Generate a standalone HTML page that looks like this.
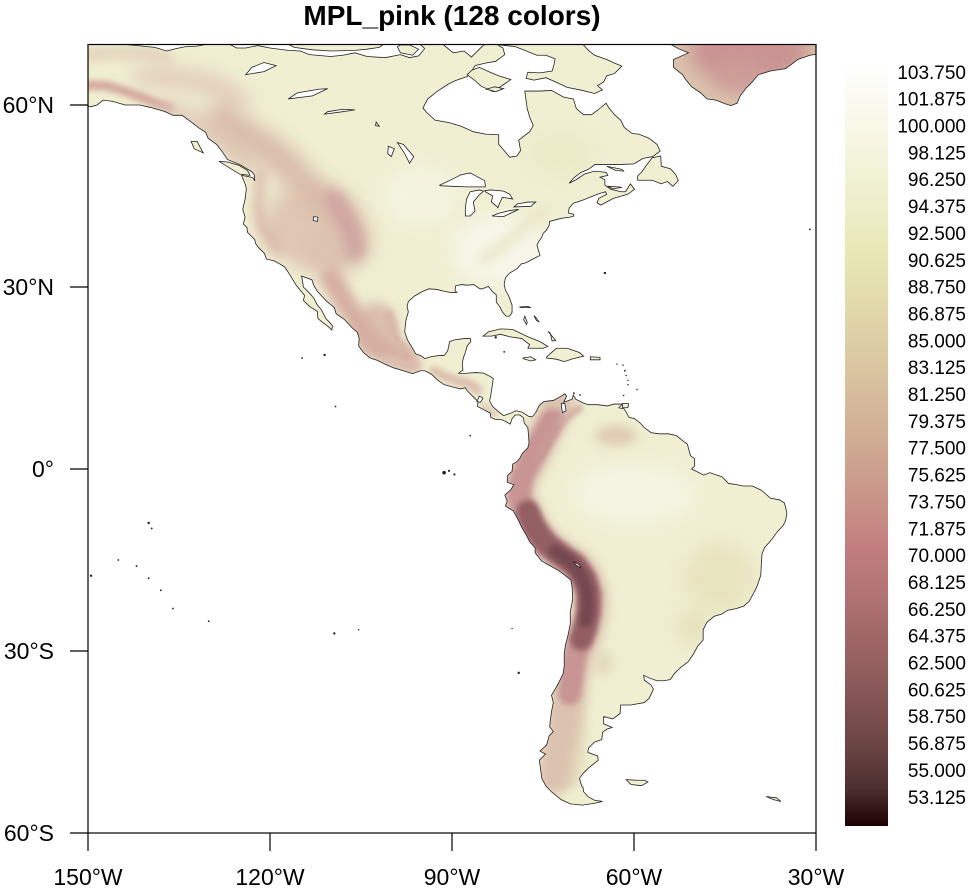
<!DOCTYPE html>
<html><head><meta charset="utf-8"><style>
html,body{margin:0;padding:0;background:#fff;}
svg{display:block;}
text{font-family:"Liberation Sans",Arial,sans-serif;fill:#000;}
</style></head><body>
<svg width="977" height="888" viewBox="0 0 977 888" xmlns="http://www.w3.org/2000/svg">
<defs>
<linearGradient id="cb" x1="0" y1="0" x2="0" y2="1">
<stop offset="0" stop-color="#ffffff"/>
<stop offset="0.1" stop-color="#f6f6e4"/>
<stop offset="0.2" stop-color="#ededc6"/>
<stop offset="0.254" stop-color="#e8e8b4"/>
<stop offset="0.3" stop-color="#e4deae"/>
<stop offset="0.4" stop-color="#dac6a1"/>
<stop offset="0.5" stop-color="#d0ab93"/>
<stop offset="0.6" stop-color="#c68b84"/>
<stop offset="0.635" stop-color="#c27e7e"/>
<stop offset="0.7" stop-color="#b07272"/>
<stop offset="0.8" stop-color="#915d5d"/>
<stop offset="0.9" stop-color="#694242"/>
<stop offset="0.95" stop-color="#4d2f2f"/>
<stop offset="1" stop-color="#1e0000"/>
</linearGradient>
<clipPath id="plot"><rect x="88" y="44" width="728" height="789"/></clipPath>
<filter id="b1" filterUnits="userSpaceOnUse" x="-170" y="-80" width="160" height="170"><feGaussianBlur stdDeviation="0.5"/></filter>
<filter id="b2" filterUnits="userSpaceOnUse" x="-170" y="-80" width="160" height="170"><feGaussianBlur stdDeviation="0.9"/></filter>
<filter id="b3" filterUnits="userSpaceOnUse" x="-170" y="-80" width="160" height="170"><feGaussianBlur stdDeviation="1.6"/></filter>

<polygon id="am" vector-effect="non-scaling-stroke" points="-151,71 -148,70.3 -145,70.1 -141,69.7 -139,69.5 -137,68.9 -135.5,69.3 -134,69.6 -132,69.7 -130,70.1 -128,70.5 -127,70.2 -125.5,69.4 -124,69.4 -122,69.8 -120,69.4 -117,69 -115,68.9 -113.5,68.3 -110,68 -108,68.2 -106,68.6 -104,68 -101,67.8 -98.5,68.3 -97,67.8 -95.5,68.1 -94.5,69.3 -95.8,70.5 -95,71.5 -92,71.5 -91.5,70 -89.8,68.6 -88,68.9 -86.8,67.9 -85.5,69.2 -84.8,69.9 -83,70.2 -81.6,69.4 -81.3,68.3 -82.8,67.2 -84.5,66.9 -86.2,66.5 -86.8,65.5 -87.5,64.7 -89.5,64 -90.7,63.4 -92.5,62.2 -94,61 -94.8,59.5 -94.2,58.8 -92.8,57.5 -90.5,57.1 -88.5,56.5 -86.5,55.6 -84.5,55.2 -82.3,55.1 -82.3,53.5 -81.5,52.6 -80.5,51.4 -79.3,51.6 -78.7,52.5 -79,54.2 -77.2,55.6 -76.6,56.6 -77.2,58 -77.6,59.4 -77.8,60.8 -78,62.3 -75.5,62.3 -73.6,62.4 -71.6,61.3 -70,61 -69.5,59.4 -68.3,58.4 -67,58.4 -65.8,59.3 -64.6,60.3 -64.2,59.6 -63.2,58.4 -62.2,57.5 -61.6,56.3 -60.3,55.3 -59.2,55.2 -57.5,54.5 -56.2,53.5 -55.7,52.4 -56.9,51.5 -58.5,51.2 -60,50.3 -62,50.2 -64.2,50.2 -66.4,50.2 -67.5,49.4 -68.7,48.9 -69.8,48.1 -70.7,47.1 -69.5,47.7 -68.2,48.6 -66.5,49.1 -64.6,48.9 -64.3,48.4 -65.6,48.1 -64.8,47.7 -64.8,46.8 -63.8,46.1 -62.1,45.7 -61.4,45.7 -60.6,47 -59.9,46.1 -61,45.3 -63.4,44.6 -65.5,43.5 -66.1,43.9 -65.8,44.6 -64.5,45.3 -64.7,45.7 -66,45.3 -67,44.9 -68.5,44.3 -70,43.8 -70.7,43 -70.8,42.2 -70,42 -69.9,41.7 -70.6,41.5 -71.5,41.4 -72.5,41.2 -73.9,40.8 -74,40.1 -74.5,39.3 -75,38.8 -75.2,38.2 -75.7,37.5 -76,36.9 -75.5,35.2 -76.5,34.7 -77.8,34 -78.6,33.8 -79.3,33 -80.5,32.3 -81.2,31.5 -81.4,30.4 -81.2,29.5 -80.6,28.4 -80.1,27 -80.1,25.8 -80.5,25.2 -81.1,25.2 -81.7,25.9 -82.1,26.7 -82.7,27.5 -82.7,28.7 -83.3,29.2 -84,30.1 -85,29.7 -85.4,29.7 -86.4,30.4 -87.5,30.3 -88.4,30.4 -89.4,30.2 -89.5,29.4 -89.2,29.1 -90.2,29.1 -91.3,29.3 -92.5,29.6 -93.8,29.7 -94.8,29.3 -96.2,28.5 -97.2,27.6 -97.4,26.8 -97.2,25.9 -97.6,24.5 -97.8,22.6 -97.3,21.2 -96.5,19.9 -96,19 -95,18.6 -94.5,18.2 -93.5,18.5 -92.2,18.7 -91.3,18.7 -90.7,19.5 -90.4,21 -89.5,21.3 -88,21.5 -87,21.5 -86.9,21 -87.5,20.3 -87.8,19.2 -88.1,18.4 -88.3,17.5 -88.2,16.3 -88.9,15.8 -88.2,15.7 -87.5,15.8 -86,15.9 -84.8,15.8 -83.6,15.2 -83.2,14.9 -83.4,13.5 -83.6,12.2 -83.8,11.2 -83.3,10.3 -82.3,9.4 -81.5,8.8 -80.3,9.2 -79.5,9.6 -78.5,9.4 -77.4,8.7 -76.8,8.6 -76.2,9.3 -75.6,10.5 -74.9,11.1 -74.2,11.2 -73.3,11.3 -72.2,11.9 -71.4,12.4 -71.1,12 -71.6,11 -70.2,11.5 -70,12.2 -69.6,11.5 -68.4,10.9 -67.5,10.6 -66,10.6 -64.4,10.4 -63.3,10.7 -61.9,10.7 -62.5,10.1 -61.6,9.9 -60.8,8.5 -59.9,8.3 -59,7.6 -58.4,6.9 -57.2,6 -55.9,5.8 -54.3,5.8 -53,5.5 -51.9,4.6 -51.2,4.1 -50.7,2.2 -50,1.7 -50,0.5 -50.5,0 -48.5,-1 -47.5,-0.6 -45.5,-1.3 -44.4,-2.4 -43.5,-2.5 -42,-2.8 -40.5,-2.8 -39,-3.5 -37.5,-4.8 -36,-5.1 -35.2,-5.6 -34.8,-7.2 -35,-8.5 -35.4,-9.3 -36.5,-10.5 -37.2,-11.5 -38.5,-13 -38.9,-14 -39,-15.5 -39.1,-17.5 -39.7,-19.3 -40.2,-20.3 -41,-21.8 -41.9,-22.6 -43.1,-23 -44.6,-23.3 -45.5,-23.9 -46.8,-24.3 -48,-25.3 -48.6,-26.5 -48.6,-28.2 -49.5,-29.2 -50.2,-30.5 -51.1,-31.8 -52.3,-32.7 -53.4,-33.8 -54,-34.7 -55,-34.9 -56.2,-34.9 -57.6,-34.4 -58.4,-34 -58.3,-34.8 -57.2,-35.6 -56.8,-36.3 -57.5,-37.8 -58.3,-38.5 -60.5,-38.9 -62.2,-38.9 -62.3,-40.3 -63.5,-41.2 -65,-40.8 -65,-42 -63.6,-42.6 -64.5,-42.9 -65.2,-43.4 -65.3,-44.6 -66.5,-45 -67.5,-46 -67.6,-46.7 -66,-47.3 -65.9,-48 -67.5,-49.3 -68.4,-50.2 -69,-51 -68.6,-52.3 -68.4,-52.5 -68.3,-53.2 -67.6,-54 -66.5,-54.6 -65.2,-54.8 -66.5,-55.1 -68.5,-55.4 -70.5,-55.2 -72,-54.5 -73.5,-53.3 -74.5,-52.3 -75.2,-51 -75.4,-49.5 -75.6,-48 -74.6,-47 -75.5,-46.5 -74.4,-45.5 -74,-44 -73.3,-43.3 -73.9,-42.5 -73.8,-41.5 -73.6,-40 -73.3,-38.5 -73.6,-37.3 -72.6,-35.6 -71.7,-33.8 -71.5,-32.5 -71.5,-30.5 -71.3,-29 -70.9,-27.5 -70.5,-25.5 -70.5,-23.5 -70.1,-21.5 -70.2,-19.5 -70.4,-18.3 -71.4,-17.5 -72.5,-16.7 -74.1,-15.8 -75.2,-15.2 -76.3,-13.8 -76.3,-13 -77.2,-12 -77.7,-11 -78.4,-9.8 -79.2,-8.2 -79.9,-6.9 -81.2,-6.1 -80.9,-5.3 -81.3,-4.3 -80.3,-3.4 -79.8,-2.6 -80.9,-2.2 -80.8,-1 -80.1,-0.4 -80,0.8 -79.3,1.2 -78.8,1.8 -78.4,2.6 -77.5,3.5 -77.3,4.3 -77.4,5.7 -77.5,6.8 -78.1,7.6 -78.2,8.4 -78.8,8.9 -79.6,8.9 -80.1,8.3 -80.4,7.4 -81.1,7.8 -81.7,8.1 -82.9,8.2 -83.6,8.5 -83.7,9.2 -85,9.9 -85.8,10.3 -85.7,11.1 -86.6,12 -87.5,12.9 -87.8,13.4 -88.6,13.2 -89.8,13.5 -91.3,13.9 -92.3,14.6 -93.5,15.7 -94.5,16.2 -95.2,16.2 -96.5,15.7 -98,16.2 -99.7,16.7 -101.1,17.3 -102.3,17.9 -103.5,18.3 -104.6,19.2 -105.4,20.3 -105.3,21.5 -105.6,22.5 -106.4,23.2 -107.8,24.7 -109.1,25.6 -109.4,26.6 -110.6,27.6 -111.1,28.1 -112.2,29.3 -112.8,30.3 -113.1,31.2 -114.8,31.8 -114.6,30.8 -114.5,30 -113.5,29 -112.8,28.2 -112.3,27.2 -111.5,26.2 -110.8,24.8 -110.2,24.2 -109.7,23.6 -109.8,22.9 -110.3,23.4 -111.5,24.3 -112.1,24.8 -112.2,26 -113.5,26.8 -114.5,27.8 -114.3,28.6 -115.7,30.3 -116.6,31.8 -117.1,32.6 -117.6,33.3 -118.4,33.8 -119.3,34.3 -120.6,34.6 -120.9,35.5 -121.9,36.5 -122.4,37.2 -122.5,37.8 -123,38.3 -123.7,39 -123.8,39.8 -124.4,40.4 -124.1,41.5 -124.5,42.8 -124.1,44.5 -123.9,46.2 -124.1,47 -124.7,48.4 -123.5,48.2 -122.8,48 -122.5,47.5 -122.6,48.5 -123,49 -124,49.6 -125,50.2 -127,51 -127.8,52.2 -128.8,53.5 -130.2,54.5 -130.6,55.5 -131.7,56.2 -133,57.2 -134.5,58.3 -136,58.3 -137.3,58.9 -139.7,59.6 -141.5,60 -143.9,60 -145.9,60.6 -147.5,60.8 -148.5,60 -149.6,59.7 -150.5,60 -151,59.5"/>
<polygon id="gl" vector-effect="non-scaling-stroke" points="-54.5,71 -54,70 -52.5,69.2 -51,68.6 -53.5,67.5 -53.5,66.2 -52,65 -51.5,64.2 -50.5,63 -49,62 -48,61 -46.5,60.8 -45,60.2 -44,59.9 -43,60.3 -42.5,61.5 -41.5,62.8 -40.5,63.8 -39.5,65 -37.5,65.6 -35,66 -33,67.5 -31,68.2 -29,68.5 -29,71"/>
<clipPath id="landclip"><use href="#am"/><use href="#gl"/></clipPath>
</defs>

<rect width="977" height="888" fill="#fff"/>

<g clip-path="url(#plot)">
<g transform="translate(88 469) scale(6.06667 -6.06667) translate(150 0)">
  <use href="#am" fill="#f0efd2" stroke="none"/>
  <use href="#gl" fill="#dcc3ae" stroke="none"/>
  <g clip-path="url(#landclip)" fill="none" stroke-linecap="round" stroke-linejoin="round">
    <ellipse cx="-82" cy="36" rx="8" ry="6" fill="#f7f6e9" filter="url(#b3)"/>
    <ellipse cx="-60" cy="-4" rx="10" ry="5" fill="#f5f4e3" filter="url(#b3)"/>
    <ellipse cx="-95" cy="45" rx="6" ry="5" fill="#f4f3e0" filter="url(#b3)"/>
    <ellipse cx="-72" cy="52" rx="6" ry="4" fill="#ecebc8" filter="url(#b3)"/>
    <ellipse cx="-46" cy="-18" rx="6" ry="6" fill="#e8e4c0" filter="url(#b3)"/>
    <ellipse cx="-50" cy="-26" rx="3" ry="3" fill="#e7e2bd" filter="url(#b3)"/>
    <polyline points="-85,34.5 -82,36.5 -79.5,38.5 -77,41 -74.5,42.5" stroke="#e9e5c3" stroke-width="1.5" filter="url(#b2)"/>
    <ellipse cx="-41" cy="69" rx="10" ry="5.5" fill="#c99393" filter="url(#b3)"/>
    <ellipse cx="-43" cy="65" rx="4" ry="3" fill="#cd9d98" filter="url(#b3)"/>
    <polyline points="-151,68.3 -146,68.5 -141,68.6 -137,67.8" stroke="#e3d3bc" stroke-width="2.2" filter="url(#b2)"/>
    <polyline points="-141,64.8 -136,64.5 -131,63.8 -128,62.5 -125,60.8" stroke="#e0c8b6" stroke-width="3" filter="url(#b3)"/>
    <polyline points="-151,63.3 -147,63.2 -144,62.3 -141,61.2 -138.5,60.2 -136.5,59.6" stroke="#d6aa9e" stroke-width="1.6" filter="url(#b1)"/>
    <polyline points="-137,59 -133,57.5 -129,55 -126,52.5 -123.5,50.5" stroke="#ddc4b4" stroke-width="3" filter="url(#b3)"/>
    <ellipse cx="-114" cy="40" rx="7.5" ry="6.5" fill="#dfc7b5" filter="url(#b3)"/>
    <ellipse cx="-110" cy="35.5" rx="5" ry="3.5" fill="#dcc2b2" filter="url(#b3)"/>
    <polyline points="-128,58 -124,55 -120,52.5 -117,50 -115,47.5 -113,45.5 -110.5,44 -108,42 -106.5,39.5 -106,37" stroke="#d9bba9" stroke-width="5" filter="url(#b3)"/>
    <polyline points="-109.5,44.5 -107.5,41 -106.3,38.5 -106,36" stroke="#d0a6a2" stroke-width="3" filter="url(#b2)"/>
    <polyline points="-121.5,49 -121.7,46 -122,43 -121.5,40.5 -120,38 -118.5,36.3" stroke="#d8b6a9" stroke-width="1.5" filter="url(#b2)"/>
    <ellipse cx="-102.5" cy="23" rx="3.5" ry="4.5" fill="#dcc0b0" filter="url(#b2)"/>
    <polyline points="-110,31.5 -108,28 -106,25 -104.5,22.5 -102.5,20 -100,19.3 -98,19 -97,17.8" stroke="#d5aea2" stroke-width="3.5" filter="url(#b2)"/>
    <polyline points="-100.5,25.5 -99.5,22 -98,19.5" stroke="#d8b6a8" stroke-width="1.5" filter="url(#b1)"/>
    <polyline points="-101,18 -98,17.3 -96,16.8" stroke="#dcbcae" stroke-width="1.5" filter="url(#b1)"/>
    <polyline points="-93,16.2 -91,15.2 -89,14.5 -87,14 -85.8,13" stroke="#dcc0ae" stroke-width="1.6" filter="url(#b1)"/>
    <polyline points="-84.8,10.3 -83,9" stroke="#dcc4b0" stroke-width="1" filter="url(#b1)"/>
    <ellipse cx="-63" cy="5.5" rx="3.5" ry="1.6" fill="#dfc9b2" filter="url(#b2)"/>
    <ellipse cx="-65" cy="-32" rx="1.5" ry="2" fill="#e2d8b8" filter="url(#b2)"/>
    <polyline points="-70.5,-38 -70.5,-44 -71,-50" stroke="#e4dabb" stroke-width="5" filter="url(#b2)"/>
    <polyline points="-72.5,11 -73.5,8.5 -75,5.5 -76.5,2.5 -78,0 -79,-2.5 -79,-5 -78,-7.5 -76.5,-10 -74.5,-12.5 -72,-14.5 -69.5,-16 -68,-18 -67,-21 -67.2,-24 -68,-27 -69.3,-30 -70,-33 -70.6,-36 -71.2,-39 -71.7,-42 -72.3,-45 -73,-48 -73.3,-51" stroke="#dcc2b0" stroke-width="5.5" filter="url(#b2)"/>
    <polyline points="-73.5,8 -75.5,4.5 -77,1.5 -78.5,-1.5 -79,-4.5 -78,-7.5 -76.5,-10 -74.5,-12.5 -72,-14.5 -69.5,-16 -68,-18.5 -67.3,-21 -67.5,-24 -68.3,-27 -69.5,-30 -70,-32.5 -70.3,-35 -70.6,-37" stroke="#c89494" stroke-width="3.8" filter="url(#b1)"/>
    <polyline points="-72.5,8.5 -73.5,6 -74.5,4 -75.8,2" stroke="#c99a96" stroke-width="1.5" filter="url(#b1)"/>
    <polyline points="-72,7.8 -70.5,9 -69,10" stroke="#d2aca2" stroke-width="1.2" filter="url(#b1)"/>
    <polyline points="-77.5,-7 -76.3,-9.8 -74.5,-12.3 -72,-14.2 -69.8,-15.8 -68.2,-18 -67.5,-20.5 -67.5,-23.5 -68,-26 -68.7,-28" stroke="#935e63" stroke-width="3.8" filter="url(#b1)"/>
    <polyline points="-73,-13.6 -70.5,-15.3 -68.7,-17.5 -67.8,-20 -67.6,-23 -68,-25" stroke="#74474f" stroke-width="2.2" filter="url(#b1)"/>
  </g>

  <use href="#am" fill="none" stroke="#222" stroke-width="0.8"/>
  <use href="#gl" fill="none" stroke="#222" stroke-width="0.8"/>
  <g fill="#f0efd2" stroke="#222" stroke-width="0.8">
    <polygon vector-effect="non-scaling-stroke" points="-118.5,71.5 -117.8,70.4 -116,69.5 -113,69.1 -110,68.9 -106,69 -104,69.2 -102,69.5 -101,70.2 -100.5,71.5"/>
    <polygon vector-effect="non-scaling-stroke" points="-99,69.6 -98.5,68.6 -96.5,68.2 -95.5,69.2 -97,69.9 -98.5,69.9"/>
    <polygon vector-effect="non-scaling-stroke" points="-87.5,65 -86.3,64.1 -85.2,63.1 -83.2,62.2 -81.3,63.5 -80.3,64.2 -82.3,64.8 -83.7,65.4 -85.5,66.2 -86.8,65.7"/>
    <polygon vector-effect="non-scaling-stroke" points="-84.3,62.6 -82.8,62.2 -81.5,62.7 -83,63"/>
    <polygon vector-effect="non-scaling-stroke" points="-88,71.5 -85,70.3 -82,69.9 -79.5,69.6 -77.5,68.8 -76,68.2 -74.5,68.2 -73,67.6 -73.2,66.6 -73.5,65.6 -75.5,65.3 -77.5,65.4 -77.8,64.4 -76.5,64.1 -74.5,64.5 -72.5,63.6 -71,62.9 -68.5,62.4 -66.5,61.9 -65.2,62.5 -66,63.2 -65,63.8 -64.5,64.8 -63.2,65.2 -62,66.4 -63.2,66.9 -64.5,67.5 -66.5,68.2 -67.5,69 -68.6,70.2 -70,70.7 -71,71.5"/>
    <polygon vector-effect="non-scaling-stroke" points="-123.3,48.4 -125,48.6 -128.4,50.7 -127,50.6 -125,50 -123.7,49.2"/>
    <polygon vector-effect="non-scaling-stroke" points="-132,54 -131.5,53 -131,52.1 -132.5,52.8 -133,54"/>
    <polygon vector-effect="non-scaling-stroke" points="-59.4,47.6 -57,47.6 -55.5,47 -54.5,47.4 -53.6,46.6 -52.7,47.5 -53.1,48.5 -54,49.5 -55.5,49.9 -55.6,51.6 -57,51.3 -58,50 -58.7,49 -59.4,48.3"/>
    <polygon vector-effect="non-scaling-stroke" points="-64.5,49.9 -62,49.4 -61.7,49.1 -63,49.2"/>
    <polygon vector-effect="non-scaling-stroke" points="-64.4,46.6 -62.5,46.5 -62,46.4 -63.5,46.2"/>
    <polygon vector-effect="non-scaling-stroke" points="-84.9,21.9 -84,22.6 -82,23.1 -80,23 -77.5,21.8 -75.5,21 -74.2,20.2 -75,19.9 -77.5,19.9 -77.2,20.5 -78.5,21.5 -80.5,21.8 -82,22.2 -83.5,21.9"/>
    <polygon vector-effect="non-scaling-stroke" points="-74.4,18.5 -72.8,19.9 -71,19.9 -69,19.2 -68.3,18.6 -70,18.2 -71.5,17.7 -72.8,18.1 -74.4,18.3"/>
    <polygon vector-effect="non-scaling-stroke" points="-78.3,18.3 -77,18.5 -76.2,18 -77,17.8 -78.3,18.2"/>
    <polygon vector-effect="non-scaling-stroke" points="-67.2,18.5 -65.6,18.4 -65.6,18 -67.2,18"/>
    <polygon vector-effect="non-scaling-stroke" points="-61.9,10.8 -60.9,10.8 -61,10.1 -61.9,10.1"/>
    <polygon vector-effect="non-scaling-stroke" points="-78,25.2 -77.6,24.2 -77.7,23.8 -78.2,24.6"/>
    <polygon vector-effect="non-scaling-stroke" points="-77.5,26.8 -77,26.6 -78.6,26.6 -78.9,26.7"/>
    <polygon vector-effect="non-scaling-stroke" points="-76.5,25.3 -76.1,24.5 -75.6,24.2 -76.2,25"/>
    <polygon vector-effect="non-scaling-stroke" points="-74.2,22.7 -73.8,22.4 -73.5,21.1 -72.9,21.2"/>
    <polygon vector-effect="non-scaling-stroke" points="-61.3,-51.2 -59.5,-51.3 -58.3,-51.3 -57.7,-51.6 -58.8,-52.2 -60.5,-52"/>
    <polygon vector-effect="non-scaling-stroke" points="-38.2,-54 -36.5,-54.2 -35.8,-54.8 -37,-54.5"/>
  </g>
  <g fill="#fff" stroke="#222" stroke-width="0.8">
    <polygon vector-effect="non-scaling-stroke" points="-92,46.7 -90,46.6 -87.5,46.5 -85,46.5 -84.5,46.5 -84.6,47.5 -85.5,48 -87,48.8 -88.5,48.5 -89.5,48 -92,46.8"/>
    <polygon vector-effect="non-scaling-stroke" points="-87.8,41.7 -87,41.7 -86.2,42.5 -86.5,44 -85.5,45.2 -84.8,45.8 -85.5,46 -87,45.7 -87.6,44.5 -87.8,43"/>
    <polygon vector-effect="non-scaling-stroke" points="-84.6,45.9 -83.5,46 -81.5,45.8 -80.5,45.3 -80,44.5 -81.7,44.8 -82.5,43 -82.4,43.1 -83.5,44 -83.3,45 -84.5,45.7"/>
    <polygon vector-effect="non-scaling-stroke" points="-83.4,41.7 -81.5,41.6 -79,42.8 -80.5,42.6 -82.5,42.1"/>
    <polygon vector-effect="non-scaling-stroke" points="-79.8,43.2 -77,43.3 -76.2,44 -77.5,44 -79.2,43.7"/>
    <polygon vector-effect="non-scaling-stroke" points="-97,50.4 -96.3,51.5 -98,53.5 -99,53.8 -97.8,52"/>
    <polygon vector-effect="non-scaling-stroke" points="-100,51.5 -99.5,52.8 -100.5,53.2 -100.6,52"/>
    <polygon vector-effect="non-scaling-stroke" points="-117,61 -113,61.5 -110.5,62.7 -112,62.6 -115.5,62"/>
    <polygon vector-effect="non-scaling-stroke" points="-124,65 -121,65.5 -119,66.5 -121,67 -123,66.2"/>
    <polygon vector-effect="non-scaling-stroke" points="-111,58.5 -108,58.9 -106,59.2 -108,59.3 -110.5,58.9"/>
    <polygon vector-effect="non-scaling-stroke" points="-102.5,57.2 -102,56.5 -102.6,56.6"/>
    <polygon vector-effect="non-scaling-stroke" points="-112.8,41.6 -112.1,41.5 -112.2,40.8 -112.9,41"/>
    <polygon vector-effect="non-scaling-stroke" points="-85.9,11.1 -85.5,12 -84.9,11.7 -85.3,11"/>
    <polygon vector-effect="non-scaling-stroke" points="-69.9,-15.3 -69,-15.8 -68.8,-16.3 -69.6,-15.8"/>
    <polygon vector-effect="non-scaling-stroke" points="-72,10.8 -71.4,10.8 -71.2,9.6 -71.8,9.3"/>
  </g>
  <g fill="#222">
    <circle cx="-64.8" cy="32.3" r="0.2"/>
    <circle cx="-111" cy="18.8" r="0.2"/><circle cx="-114.7" cy="18.3" r="0.15"/>
    <circle cx="-109.2" cy="10.3" r="0.15"/>
    <circle cx="-87" cy="5.5" r="0.15"/>
    <circle cx="-91.3" cy="-0.6" r="0.3"/><circle cx="-90.5" cy="-0.3" r="0.18"/><circle cx="-89.6" cy="-0.9" r="0.18"/>
    <circle cx="-140" cy="-8.9" r="0.2"/><circle cx="-139.5" cy="-9.8" r="0.15"/>
    <circle cx="-145" cy="-15" r="0.15"/><circle cx="-142" cy="-16" r="0.15"/><circle cx="-140" cy="-18" r="0.15"/>
    <circle cx="-138" cy="-20" r="0.15"/><circle cx="-149.5" cy="-17.6" r="0.2"/><circle cx="-136" cy="-23" r="0.15"/>
    <circle cx="-130.1" cy="-25.1" r="0.15"/><circle cx="-109.4" cy="-27.1" r="0.2"/><circle cx="-105.4" cy="-26.5" r="0.12"/>
    <circle cx="-79" cy="-33.6" r="0.2"/><circle cx="-80.1" cy="-26.3" r="0.12"/>
    <circle cx="-61.5" cy="16.2" r="0.15"/><circle cx="-61.3" cy="15.4" r="0.12"/><circle cx="-61" cy="14.6" r="0.12"/>
    <circle cx="-61" cy="13.9" r="0.12"/><circle cx="-59.5" cy="13.1" r="0.12"/><circle cx="-61.7" cy="12.1" r="0.12"/>
    <circle cx="-62.8" cy="17.3" r="0.12"/><circle cx="-61.8" cy="17.1" r="0.12"/><circle cx="-69.9" cy="12.5" r="0.15"/><circle cx="-68.9" cy="12.2" r="0.15"/>
    <circle cx="-81.4" cy="19.3" r="0.15"/><circle cx="-82.8" cy="21.7" r="0.2"/>
    <circle cx="-31" cy="39.5" r="0.15"/>
  </g>
</g>
</g>

<rect x="88" y="44.5" width="728" height="788.5" fill="none" stroke="#000" stroke-width="1.2"/>
<g stroke="#000" stroke-width="1.2">
  <line x1="70" y1="105" x2="88" y2="105"/>
  <line x1="70" y1="287" x2="88" y2="287"/>
  <line x1="70" y1="469" x2="88" y2="469"/>
  <line x1="70" y1="651" x2="88" y2="651"/>
  <line x1="70" y1="833" x2="88" y2="833"/>
  <line x1="88" y1="833" x2="88" y2="851"/>
  <line x1="270" y1="833" x2="270" y2="851"/>
  <line x1="452" y1="833" x2="452" y2="851"/>
  <line x1="634" y1="833" x2="634" y2="851"/>
  <line x1="816" y1="833" x2="816" y2="851"/>
</g>
<g font-size="23" text-anchor="end">
  <text x="54" y="113">60°N</text>
  <text x="54" y="295">30°N</text>
  <text x="54" y="477">0°</text>
  <text x="54" y="659">30°S</text>
  <text x="54" y="841">60°S</text>
</g>
<g font-size="23" text-anchor="middle">
  <text x="88" y="885">150°W</text>
  <text x="270" y="885">120°W</text>
  <text x="452" y="885">90°W</text>
  <text x="634" y="885">60°W</text>
  <text x="816" y="885">30°W</text>
</g>
<text x="452" y="25" font-size="28" font-weight="bold" text-anchor="middle">MPL_pink (128 colors)</text>

<rect x="845" y="62" width="43" height="764" fill="url(#cb)"/>
<g font-size="19" text-anchor="end">
  <text x="966" y="78.8">103.750</text>
  <text x="966" y="105.7">101.875</text>
  <text x="966" y="132.5">100.000</text>
  <text x="966" y="159.4">98.125</text>
  <text x="966" y="186.2">96.250</text>
  <text x="966" y="213.1">94.375</text>
  <text x="966" y="239.9">92.500</text>
  <text x="966" y="266.8">90.625</text>
  <text x="966" y="293.6">88.750</text>
  <text x="966" y="320.5">86.875</text>
  <text x="966" y="347.3">85.000</text>
  <text x="966" y="374.2">83.125</text>
  <text x="966" y="401">81.250</text>
  <text x="966" y="427.9">79.375</text>
  <text x="966" y="454.7">77.500</text>
  <text x="966" y="481.6">75.625</text>
  <text x="966" y="508.4">73.750</text>
  <text x="966" y="535.3">71.875</text>
  <text x="966" y="562.1">70.000</text>
  <text x="966" y="589">68.125</text>
  <text x="966" y="615.8">66.250</text>
  <text x="966" y="642.7">64.375</text>
  <text x="966" y="669.5">62.500</text>
  <text x="966" y="696.4">60.625</text>
  <text x="966" y="723.2">58.750</text>
  <text x="966" y="750.1">56.875</text>
  <text x="966" y="776.9">55.000</text>
  <text x="966" y="803.8">53.125</text>
</g>
</svg>
</body></html>
